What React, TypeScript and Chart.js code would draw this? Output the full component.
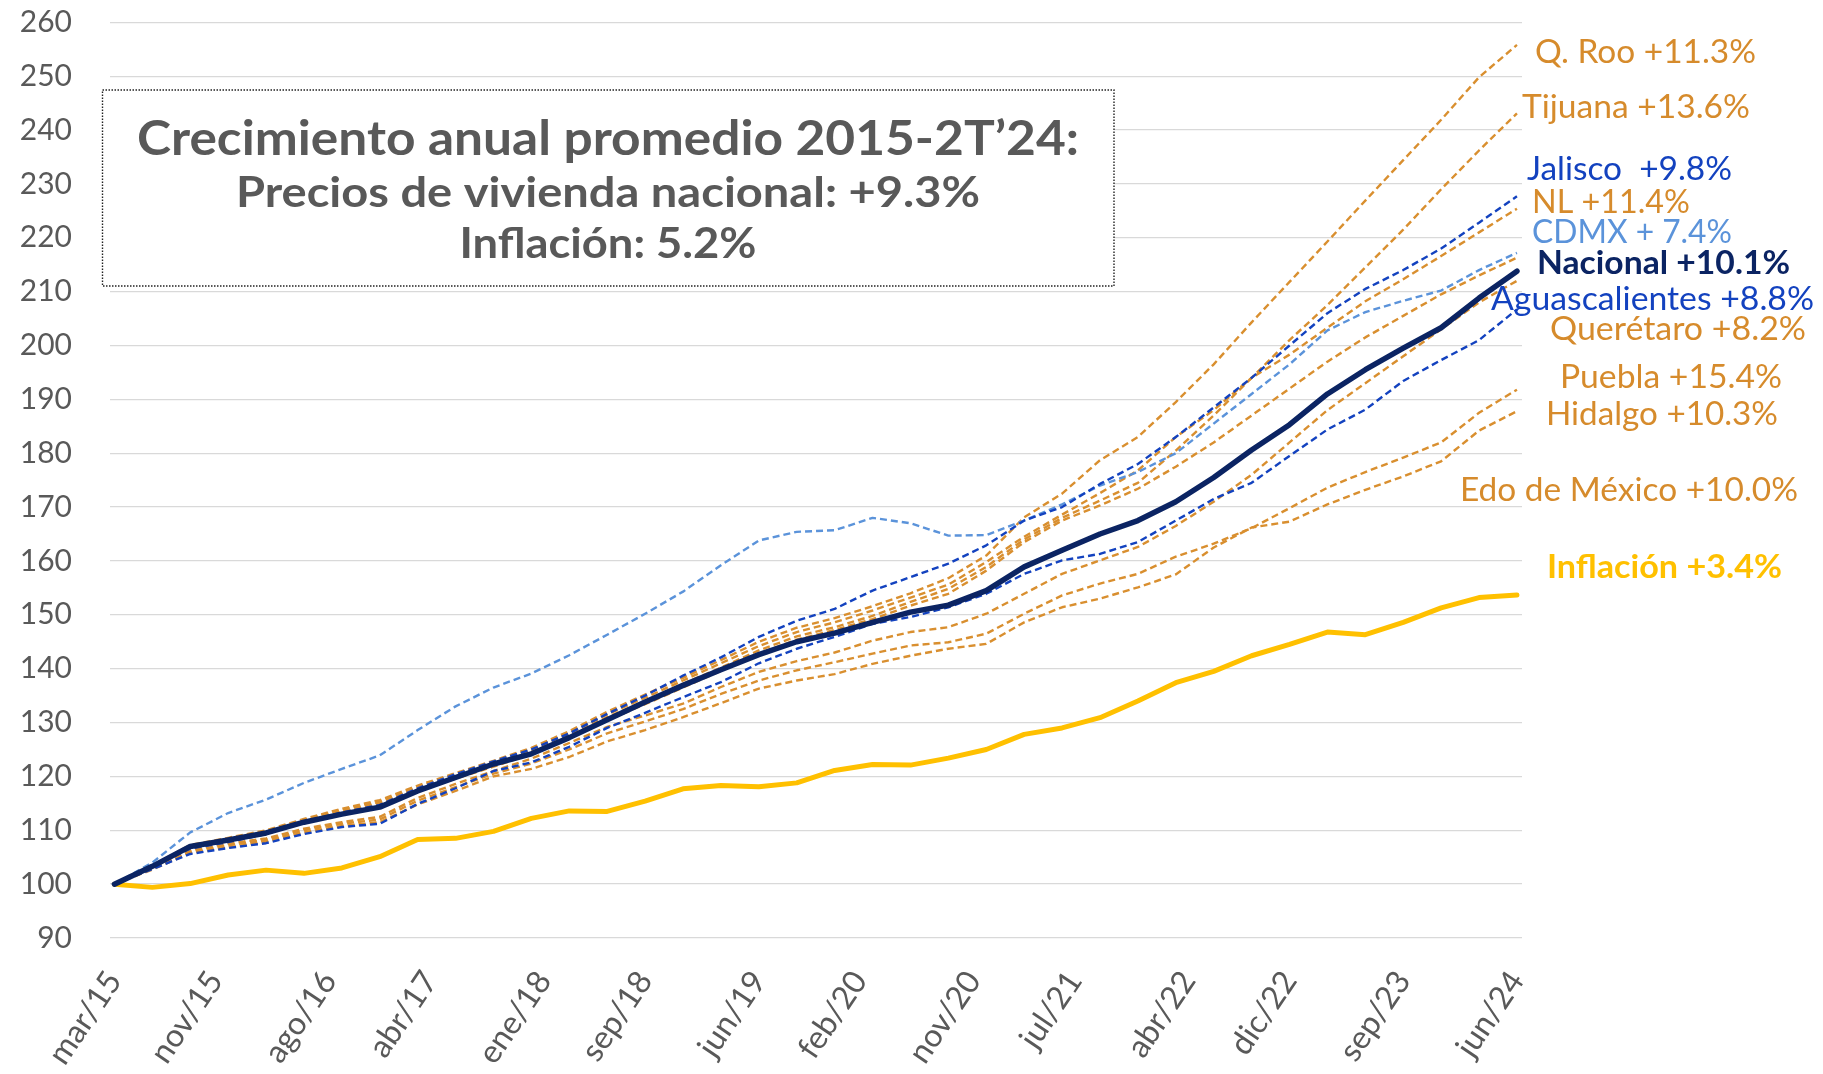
import React, { useEffect, useRef } from 'react';
import { Chart, registerables } from 'chart.js';

Chart.register(...registerables);

// ---------------- DATA ----------------
// Quarterly observations, mar/15 .. jun/24 (38 quarters)
const QUARTERS = [
  'mar/15', 'jun/15', 'sep/15', 'dic/15', 'mar/16', 'jun/16', 'sep/16', 'dic/16',
  'mar/17', 'jun/17', 'sep/17', 'dic/17', 'mar/18', 'jun/18', 'sep/18', 'dic/18',
  'mar/19', 'jun/19', 'sep/19', 'dic/19', 'mar/20', 'jun/20', 'sep/20', 'dic/20',
  'mar/21', 'jun/21', 'sep/21', 'dic/21', 'mar/22', 'jun/22', 'sep/22', 'dic/22',
  'mar/23', 'jun/23', 'sep/23', 'dic/23', 'mar/24', 'jun/24',
];

// month offsets (from mar/15) where the axis shows a label
const TICK_MONTHS = [0, 8, 17, 25, 34, 42, 51, 59, 68, 76, 85, 93, 102, 111];
const TICK_LABELS = [
  'mar/15', 'nov/15', 'ago/16', 'abr/17', 'ene/18', 'sep/18', 'jun/19',
  'feb/20', 'nov/20', 'jul/21', 'abr/22', 'dic/22', 'sep/23', 'jun/24',
];

const Y_MIN = 90;
const Y_MAX = 260;
const Y_STEP = 10;

const INFLACION = [100.0, 99.4, 100.1, 101.7, 102.6, 102.0, 103.0, 105.1, 108.3, 108.5, 109.8, 112.2, 113.6, 113.5, 115.4, 117.7, 118.3, 118.1, 118.8, 121.1, 122.2, 122.1, 123.4, 125.0, 127.8, 129.0, 130.9, 134.0, 137.4, 139.5, 142.4, 144.5, 146.8, 146.3, 148.6, 151.3, 153.2, 153.7];
const NACIONAL = [100.0, 103.3, 107.0, 108.2, 109.5, 111.5, 113.0, 114.3, 117.3, 119.8, 122.3, 124.2, 127.2, 130.5, 133.8, 136.9, 139.8, 142.6, 145.0, 146.6, 148.6, 150.5, 151.8, 154.5, 158.9, 162.0, 165.0, 167.5, 171.0, 175.5, 180.6, 185.3, 191.0, 195.5, 199.5, 203.3, 208.8, 213.8];
const CDMX = [100.0, 104.0, 109.6, 113.2, 115.7, 118.8, 121.4, 123.9, 128.6, 133.0, 136.5, 139.1, 142.5, 146.3, 150.2, 154.3, 159.2, 163.8, 165.4, 165.7, 168.0, 167.0, 164.7, 164.8, 167.5, 170.5, 174.0, 176.5, 180.0, 185.5, 191.0, 196.5, 202.8, 206.2, 208.3, 210.2, 214.0, 217.2];
const JALISCO = [100.0, 103.2, 106.6, 107.8, 109.3, 111.6, 113.3, 114.7, 117.8, 120.4, 122.8, 125.0, 128.0, 131.6, 135.0, 138.7, 142.1, 145.9, 148.9, 151.1, 154.5, 157.0, 159.5, 162.9, 167.5, 170.0, 174.3, 178.0, 183.0, 188.5, 194.0, 200.0, 206.0, 210.5, 214.0, 218.0, 222.8, 227.7];
const AGUASCALIENTES = [100.0, 102.8, 105.6, 106.7, 107.6, 109.3, 110.6, 111.2, 114.9, 117.8, 121.0, 122.6, 125.5, 129.0, 131.8, 134.7, 137.5, 141.0, 143.7, 145.9, 148.3, 149.6, 151.4, 153.9, 157.6, 160.1, 161.3, 163.5, 167.5, 171.5, 174.5, 179.5, 184.4, 188.1, 193.4, 197.3, 201.0, 206.7];
const Q_ROO = [100.0, 103.4, 107.3, 108.6, 110.0, 112.1, 114.0, 115.6, 118.3, 120.6, 122.9, 125.3, 128.4, 132.0, 135.2, 138.3, 141.6, 145.0, 147.6, 149.4, 151.6, 154.0, 156.8, 161.0, 168.1, 172.5, 178.7, 183.0, 189.5, 196.5, 204.3, 211.8, 219.3, 226.9, 234.4, 241.9, 249.8, 255.8];
const TIJUANA = [100.0, 103.3, 107.1, 108.4, 109.8, 111.9, 113.8, 115.3, 118.0, 120.3, 122.6, 125.0, 128.0, 131.5, 134.6, 137.8, 141.0, 144.2, 146.8, 148.6, 150.8, 153.2, 155.6, 159.8, 164.5, 168.6, 172.6, 176.8, 183.0, 188.0, 194.0, 201.0, 207.5, 214.5, 221.5, 229.0, 236.2, 243.1];
const NL = [100.0, 103.1, 106.9, 108.2, 109.6, 111.6, 113.5, 115.0, 117.6, 120.0, 122.2, 124.6, 127.6, 131.0, 134.0, 137.2, 140.2, 143.4, 146.0, 147.7, 149.8, 152.4, 154.8, 158.9, 164.0, 168.0, 171.2, 174.5, 180.5, 187.0, 194.0, 198.3, 203.3, 208.2, 212.3, 216.6, 221.0, 225.4];
const QUERETARO = [100.0, 103.0, 106.8, 108.0, 109.4, 111.3, 113.2, 114.6, 117.2, 119.6, 121.8, 124.2, 127.2, 130.4, 133.4, 136.5, 139.6, 142.8, 145.4, 147.2, 149.2, 151.7, 153.9, 158.2, 163.5, 167.5, 170.3, 173.4, 177.5, 182.0, 187.0, 192.0, 197.0, 201.5, 205.5, 209.5, 213.0, 216.3];
const PUEBLA = [100.0, 103.0, 106.3, 107.5, 108.5, 110.3, 111.5, 112.5, 116.0, 118.6, 121.0, 123.3, 126.2, 129.2, 131.3, 133.5, 136.6, 139.4, 141.4, 143.0, 145.2, 146.8, 147.7, 150.2, 153.9, 157.6, 160.1, 162.6, 166.5, 171.0, 176.0, 182.0, 188.0, 193.0, 198.0, 203.0, 208.0, 212.0];
const HIDALGO = [100.0, 102.9, 106.0, 107.2, 108.2, 110.0, 111.2, 112.0, 115.5, 118.0, 120.5, 122.4, 125.0, 128.0, 130.2, 132.5, 135.3, 137.8, 139.7, 141.2, 142.8, 144.3, 144.9, 146.5, 150.2, 153.6, 155.8, 157.6, 160.8, 163.2, 166.1, 169.8, 173.6, 176.5, 179.2, 182.0, 187.5, 191.8];
const EDO_MEXICO = [100.0, 102.7, 105.8, 106.8, 107.9, 109.6, 110.8, 111.5, 114.8, 117.3, 120.0, 121.4, 123.6, 126.5, 128.6, 131.0, 133.6, 136.3, 137.8, 139.0, 140.9, 142.4, 143.7, 144.6, 148.6, 151.4, 153.0, 155.1, 157.5, 162.5, 166.2, 167.3, 170.5, 173.2, 175.7, 178.5, 184.2, 187.8];

// ---------------- STYLE ----------------
const ORANGE = '#D98F2F';
const ORANGE_TEXT = '#D68B2C';
const BLUE = '#1342BF';
const LIGHT_BLUE = '#5B93DA';
const NAVY = '#0B2463';
const YELLOW = '#FFC000';
const GREY_TEXT = '#595959';
const GRID = '#D9D9D9';
const FONT = 'Lato, "Open Sans", sans-serif';

const CANVAS_W = 1807;
const CANVAS_H = 1066;

const SERIES = [
  { label: 'Nacional', data: NACIONAL, color: NAVY, width: 5.5, dash: [], order: 0 },
  { label: 'Inflación', data: INFLACION, color: YELLOW, width: 5, dash: [], order: 1 },
  { label: 'Jalisco', data: JALISCO, color: BLUE, width: 2.4, dash: [7, 4], order: 2 },
  { label: 'Aguascalientes', data: AGUASCALIENTES, color: BLUE, width: 2.4, dash: [7, 4], order: 3 },
  { label: 'CDMX', data: CDMX, color: LIGHT_BLUE, width: 2.4, dash: [7, 4], order: 4 },
  { label: 'Q. Roo', data: Q_ROO, color: ORANGE, width: 2.4, dash: [7, 4], order: 5 },
  { label: 'Tijuana', data: TIJUANA, color: ORANGE, width: 2.4, dash: [7, 4], order: 6 },
  { label: 'NL', data: NL, color: ORANGE, width: 2.4, dash: [7, 4], order: 7 },
  { label: 'Querétaro', data: QUERETARO, color: ORANGE, width: 2.4, dash: [7, 4], order: 8 },
  { label: 'Puebla', data: PUEBLA, color: ORANGE, width: 2.4, dash: [7, 4], order: 9 },
  { label: 'Hidalgo', data: HIDALGO, color: ORANGE, width: 2.4, dash: [7, 4], order: 10 },
  { label: 'Edo de México', data: EDO_MEXICO, color: ORANGE, width: 2.4, dash: [7, 4], order: 11 },
];

// labels at the right: y given in axis units, x offset from plot right edge (px), fitted width (px)
const END_LABELS = [
  { text: 'Q. Roo +11.3%', color: ORANGE_TEXT, bold: false, at: 254.55, dx: 13, w: 221 },
  { text: 'Tijuana +13.6%', color: ORANGE_TEXT, bold: false, at: 244.34, dx: 0, w: 228 },
  { text: 'Jalisco  +9.8%', color: BLUE, bold: false, at: 232.91, dx: 5, w: 205 },
  { text: 'NL +11.4%', color: ORANGE_TEXT, bold: false, at: 226.79, dx: 10, w: 158 },
  { text: 'CDMX + 7.4%', color: LIGHT_BLUE, bold: false, at: 221.22, dx: 10, w: 200 },
  { text: 'Nacional +10.1%', color: NAVY, bold: true, at: 215.44, dx: 15, w: 253 },
  { text: 'Aguascalientes +8.8%', color: BLUE, bold: false, at: 208.79, dx: -31, w: 323 },
  { text: 'Querétaro +8.2%', color: ORANGE_TEXT, bold: false, at: 203.23, dx: 28, w: 256 },
  { text: 'Puebla +15.4%', color: ORANGE_TEXT, bold: false, at: 194.25, dx: 38, w: 222 },
  { text: 'Hidalgo +10.3%', color: ORANGE_TEXT, bold: false, at: 187.46, dx: 24, w: 232 },
  { text: 'Edo de México +10.0%', color: ORANGE_TEXT, bold: false, at: 173.23, dx: -62, w: 338 },
  { text: 'Inflación +3.4%', color: YELLOW, bold: true, at: 158.99, dx: 25, w: 235 },
];

const BOX = { x: 94.5, y: 82, w: 1011.5, h: 196, cx: 600 };
const BOX_LINES = [
  { text: 'Crecimiento anual promedio 2015-2T\u201924:', base: 147, cap: 35, w: 942 },
  { text: 'Precios de vivienda nacional: +9.3%', base: 199, cap: 30, w: 744 },
  { text: 'Inflación: 5.2%', base: 250, cap: 30, w: 297 },
];

const CAP_RATIO = 0.72;

function drawFitted(
  ctx: CanvasRenderingContext2D,
  text: string,
  left: number,
  baseline: number,
  width: number,
  cap: number,
  weight: string,
  color: string,
) {
  const size = cap / CAP_RATIO;
  ctx.save();
  ctx.font = `${weight} ${size}px ${FONT}`;
  const m = ctx.measureText(text).width;
  const sx = width / m;
  ctx.translate(left, baseline);
  ctx.scale(sx, 1);
  ctx.fillStyle = color;
  ctx.textAlign = 'left';
  ctx.textBaseline = 'alphabetic';
  ctx.fillText(text, 0, 0);
  ctx.restore();
}

const boxPlugin = {
  id: 'summaryBox',
  beforeDatasetsDraw(chart: any) {
    const ctx: CanvasRenderingContext2D = chart.ctx;
    ctx.save();
    ctx.fillStyle = '#ffffff';
    ctx.fillRect(BOX.x, BOX.y, BOX.w, BOX.h);
    ctx.setLineDash([1.5, 1.5]);
    ctx.lineWidth = 1.4;
    ctx.strokeStyle = '#222222';
    ctx.strokeRect(BOX.x, BOX.y, BOX.w, BOX.h);
    ctx.restore();
    BOX_LINES.forEach((l) => {
      drawFitted(ctx, l.text, BOX.cx - l.w / 2, l.base, l.w, l.cap, 'bold', GREY_TEXT);
    });
  },
  afterDraw(chart: any) {
    const ctx: CanvasRenderingContext2D = chart.ctx;
    const yScale = chart.scales.y;
    const right = chart.chartArea.right;
    END_LABELS.forEach((l) => {
      const cy = yScale.getPixelForValue(l.at);
      drawFitted(ctx, l.text, right + l.dx, cy + 11.65, l.w, 23.3, l.bold ? 'bold' : 'normal', l.color);
    });
  },
};

export default function App() {
  const ref = useRef<HTMLCanvasElement | null>(null);

  useEffect(() => {
    if (!ref.current) return;
    const chart = new Chart(ref.current, {
      type: 'line',
      data: {
        datasets: SERIES.map((s) => ({
          label: s.label,
          data: s.data.map((v, i) => ({ x: i * 3, y: v })),
          borderColor: s.color,
          backgroundColor: s.color,
          borderWidth: s.width,
          borderDash: s.dash,
          borderCapStyle: s.dash.length ? 'butt' : 'round',
          borderJoinStyle: 'round',
          pointRadius: 0,
          pointHoverRadius: 0,
          tension: 0,
          fill: false,
          order: s.order,
        })),
      },
      options: {
        responsive: false,
        animation: false,
        layout: { padding: { left: 0, right: 293, top: 14.3, bottom: 0 } },
        plugins: {
          legend: { display: false },
          tooltip: { enabled: false },
          title: { display: false },
        },
        scales: {
          x: {
            type: 'linear',
            min: -0.35,
            max: 111.4,
            grid: { display: false, drawTicks: false },
            border: { display: false },
            afterBuildTicks: (scale: any) => {
              scale.ticks = TICK_MONTHS.map((m) => ({ value: m }));
            },
            afterFit: (scale: any) => {
              scale.height = 136;
            },
            ticks: {
              autoSkip: false,
              minRotation: 56,
              maxRotation: 56,
              padding: 26,
              color: GREY_TEXT,
              font: { family: FONT, size: 32 },
              callback: (value: any) => {
                const idx = TICK_MONTHS.indexOf(Number(value));
                return idx >= 0 ? TICK_LABELS[idx] : '';
              },
            },
          },
          y: {
            type: 'linear',
            min: Y_MIN,
            max: Y_MAX,
            grid: {
              color: GRID,
              lineWidth: 1.3,
              drawTicks: true,
              tickLength: 38,
              tickColor: 'rgba(0,0,0,0)',
            },
            border: { display: false },
            afterFit: (scale: any) => {
              scale.width = 102;
            },
            ticks: {
              stepSize: Y_STEP,
              padding: 0,
              color: GREY_TEXT,
              font: { family: FONT, size: 30, lineHeight: 0.8 },
            },
          },
        },
      },
      plugins: [boxPlugin],
    } as any);
    return () => chart.destroy();
  }, []);

  return (
    <div style={{ width: CANVAS_W, height: CANVAS_H }}>
      <canvas ref={ref} width={CANVAS_W} height={CANVAS_H} style={{ display: 'block' }} />
    </div>
  );
}
